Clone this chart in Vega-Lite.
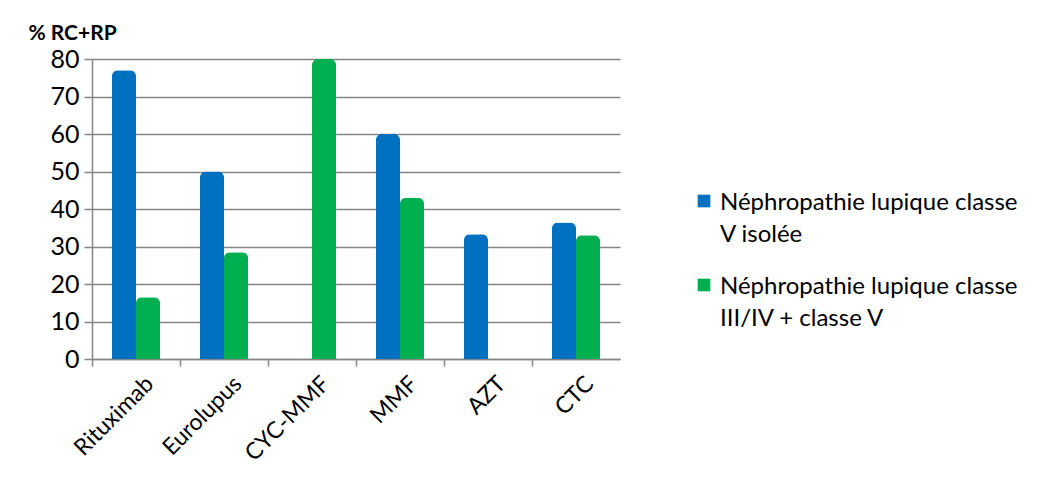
{
  "$schema": "https://vega.github.io/schema/vega-lite/v6.json",
  "width": 528,
  "height": 300,
  "autosize": {"type": "pad"},
  "padding": {"left": 28, "top": 22, "right": 10, "bottom": 10},
  "background": "white",
  "data": {
    "values": [
      {"traitement": "Rituximab", "groupe": "Néphropathie lupique classe V isolée", "pct": 77},
      {"traitement": "Rituximab", "groupe": "Néphropathie lupique classe III/IV + classe V", "pct": 16.5},
      {"traitement": "Eurolupus", "groupe": "Néphropathie lupique classe V isolée", "pct": 50},
      {"traitement": "Eurolupus", "groupe": "Néphropathie lupique classe III/IV + classe V", "pct": 28.5},
      {"traitement": "CYC-MMF", "groupe": "Néphropathie lupique classe V isolée", "pct": 0},
      {"traitement": "CYC-MMF", "groupe": "Néphropathie lupique classe III/IV + classe V", "pct": 80},
      {"traitement": "MMF", "groupe": "Néphropathie lupique classe V isolée", "pct": 60},
      {"traitement": "MMF", "groupe": "Néphropathie lupique classe III/IV + classe V", "pct": 43},
      {"traitement": "AZT", "groupe": "Néphropathie lupique classe V isolée", "pct": 33.3},
      {"traitement": "AZT", "groupe": "Néphropathie lupique classe III/IV + classe V", "pct": 0},
      {"traitement": "CTC", "groupe": "Néphropathie lupique classe V isolée", "pct": 36.4},
      {"traitement": "CTC", "groupe": "Néphropathie lupique classe III/IV + classe V", "pct": 33}
    ]
  },
  "mark": {"type": "bar", "cornerRadiusTopLeft": 6, "cornerRadiusTopRight": 6},
  "encoding": {
    "x": {
      "field": "traitement",
      "type": "nominal",
      "sort": ["Rituximab", "Eurolupus", "CYC-MMF", "MMF", "AZT", "CTC"],
      "scale": {"paddingInner": 0, "paddingOuter": 0},
      "axis": {
        "title": null,
        "labelAngle": -45,
        "labelAlign": "right",
        "labelBaseline": "middle",
        "labelFont": "Lato",
        "labelFontSize": 23,
        "labelColor": "black",
        "labelPadding": 14,
        "labelOffset": 14,
        "bandPosition": 0,
        "tickSize": 7,
        "tickColor": "#868686",
        "tickWidth": 1.5,
        "domainColor": "#868686",
        "domainWidth": 1.5,
        "grid": false
      }
    },
    "xOffset": {
      "field": "groupe",
      "sort": ["Néphropathie lupique classe V isolée", "Néphropathie lupique classe III/IV + classe V"],
      "scale": {"paddingInner": 0, "paddingOuter": 0.83}
    },
    "y": {
      "field": "pct",
      "type": "quantitative",
      "scale": {"domain": [0, 80]},
      "axis": {
        "title": "% RC+RP",
        "titleAngle": 0,
        "titleAlign": "left",
        "titleBaseline": "bottom",
        "titleX": -64,
        "titleY": -16,
        "titleFont": "Lato",
        "titleFontSize": 21,
        "titleFontWeight": "bold",
        "titleColor": "black",
        "values": [0, 10, 20, 30, 40, 50, 60, 70, 80],
        "labelFont": "Lato",
        "labelFontSize": 25,
        "labelColor": "black",
        "labelPadding": 5,
        "tickSize": 8,
        "tickColor": "#868686",
        "tickWidth": 1.5,
        "domainColor": "#868686",
        "domainWidth": 1.5,
        "gridColor": "#868686",
        "gridWidth": 1.5
      }
    },
    "color": {
      "field": "groupe",
      "type": "nominal",
      "sort": ["Néphropathie lupique classe V isolée", "Néphropathie lupique classe III/IV + classe V"],
      "scale": {"range": ["#0070C0", "#00B050"]},
      "legend": {
        "title": null,
        "orient": "none",
        "legendX": 600,
        "legendY": 120,
        "symbolType": "square",
        "symbolSize": 160,
        "symbolStrokeWidth": 0,
        "labelFont": "Lato",
        "labelFontSize": 24,
        "labelColor": "black",
        "labelLimit": 420,
        "labelBaseline": "top",
        "rowPadding": 16,
        "labelExpr": "datum.label == 'Néphropathie lupique classe V isolée' ? ['Néphropathie lupique classe', 'V isolée'] : ['Néphropathie lupique classe', 'III/IV + classe V']",
        "encode": {
          "labels": {"update": {"lineHeight": {"value": 32}}},
          "symbols": {"update": {"y": {"value": 22}}}
        }
      }
    }
  },
  "config": {
    "view": {"stroke": null}
  }
}
